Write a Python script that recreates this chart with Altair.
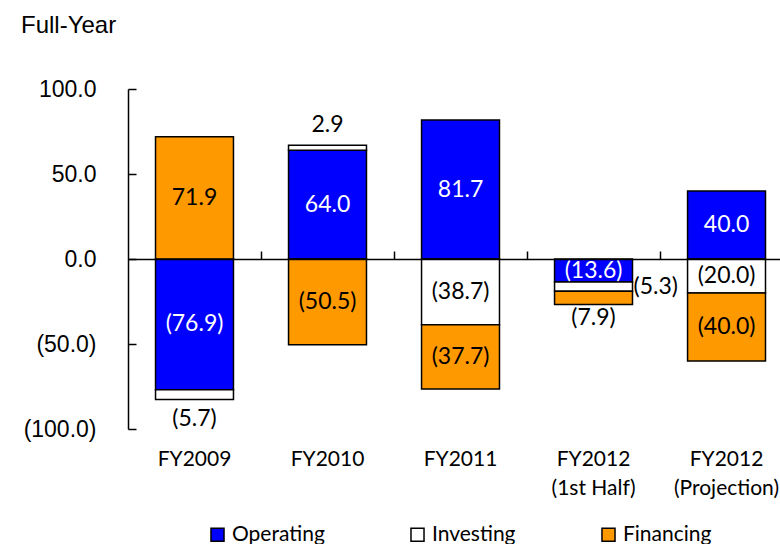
import altair as alt
import pandas as pd

# Cash flows by fiscal period (in billions of yen)
periods = ["FY2009", "FY2010", "FY2011", "FY2012\n(1st Half)", "FY2012\n(Projection)"]
flows = ["Operating", "Investing", "Financing"]
flow_colors = ["#0000FF", "#FFFFFF", "#FF9900"]

operating = [-76.9, 64.0, 81.7, -13.6, 40.0]
investing = [-5.7, 2.9, -38.7, -5.3, -20.0]
financing = [71.9, -50.5, -37.7, -7.9, -40.0]

# Where each value label is placed relative to its segment
operating_label_at = ["center", "center", "center", "center", "center"]
investing_label_at = ["below", "above", "center", "right", "center"]
financing_label_at = ["center", "center", "center", "under", "center"]

y_ticks = [-100, -50, 0, 50, 100]


def fmt(v):
    return f"({abs(v):.1f})" if v < 0 else f"{v:.1f}"


# Stack positives upward and negatives downward, Operating first
rows = []
series = {"Operating": (operating, operating_label_at),
          "Investing": (investing, investing_label_at),
          "Financing": (financing, financing_label_at)}
for i, period in enumerate(periods):
    up, down = 0.0, 0.0
    for flow in flows:
        values, places = series[flow]
        v = values[i]
        if v >= 0:
            y0, y1 = up, up + v
            up = y1
        else:
            y0, y1 = down, down + v
            down = y1
        place = places[i]
        if place == "above":
            anchor = max(y0, y1)
        elif place in ("below", "under"):
            anchor = min(y0, y1)
        else:
            anchor = (y0 + y1) / 2
        rows.append({"period": period, "flow": flow, "value": v, "y0": y0, "y1": y1,
                     "anchor": anchor, "place": place, "label": fmt(v)})

df = pd.DataFrame(rows)

label_font = "Lato"
num_font = "Liberation Sans"

x_scale = alt.Scale(domain=periods, paddingInner=0.414, paddingOuter=0.158, align=0.655)
y_scale = alt.Scale(domain=[-100, 100], nice=False)

base = alt.Chart(df)

bars = base.mark_bar(stroke="black", strokeWidth=1.5).encode(
    x=alt.X("period:N", sort=periods, scale=x_scale,
            axis=alt.Axis(orient="bottom", title=None, domain=False, ticks=False,
                          labelAngle=0, labelFont=label_font, labelFontSize=21,
                          labelColor="black", labelPadding=19, labelLineHeight=29,
                          labelExpr="split(datum.label, '\\n')")),
    y=alt.Y("y0:Q", scale=y_scale,
            axis=alt.Axis(orient="left", title=None, values=y_ticks, grid=False,
                          domain=True, domainColor="black", domainWidth=1.5,
                          ticks=False, tickSize=0, labelFont=num_font, labelFontSize=23,
                          labelColor="black", labelPadding=32,
                          labelExpr="datum.value < 0 ? '(' + format(-datum.value, '.1f') + ')' : format(datum.value, '.1f') + '\u00a0'")),
    y2="y1:Q",
    color=alt.Color("flow:N", sort=flows,
                    scale=alt.Scale(domain=flows, range=flow_colors),
                    legend=alt.Legend(orient="none", legendX=79, legendY=435,
                                      direction="horizontal", title=None,
                                      symbolType="square", symbolSize=170,
                                      symbolStrokeColor="black", symbolStrokeWidth=1.5,
                                      labelFont=label_font, labelFontSize=21,
                                      labelColor="black", labelOffset=4,
                                      columnPadding=82)),
)

text_color = alt.condition(alt.datum.flow == "Operating", alt.value("white"), alt.value("black"))

# Centered labels; this layer also carries the zero line with its
# category separators and the inward y ticks.
center_text = base.transform_filter(alt.datum.place == "center").mark_text(
    font=label_font, fontSize=23, baseline="middle", align="center"
).encode(
    x=alt.X("period:N", sort=periods,
            axis=alt.Axis(orient="top", offset=-170, title=None, labels=False,
                          values=periods[:4], tickOffset=66.5, tickSize=8,
                          tickColor="black", tickWidth=1.5, domain=True,
                          domainColor="black", domainWidth=1.5, zindex=1)),
    y=alt.Y("anchor:Q",
            axis=alt.Axis(orient="right", offset=-652, title=None, labels=False,
                          values=y_ticks, grid=False, domain=False, tickSize=8,
                          tickColor="black", tickWidth=1.5, zindex=1)),
    text="label:N",
    color=text_color,
)


def placed_text(place, **mark_kw):
    band = 1 if place == "right" else 0.5
    return base.transform_filter(alt.datum.place == place).mark_text(
        font=label_font, fontSize=23, **mark_kw
    ).encode(
        x=alt.X("period:N", sort=periods, bandPosition=band, axis=None),
        y=alt.Y("anchor:Q", axis=None),
        text="label:N",
        color=text_color,
    )


above_text = placed_text("above", baseline="alphabetic", align="center", dy=-13)
below_text = placed_text("below", baseline="top", align="center", dy=9)
under_text = placed_text("under", baseline="top", align="center", dy=2)
right_text = placed_text("right", baseline="middle", align="left", dx=1)

chart = alt.layer(bars, center_text, above_text, below_text, under_text, right_text).resolve_axis(
    x="independent", y="independent"
).properties(
    width=652,
    height=340,
    title=alt.TitleParams("Full-Year", anchor="start", frame="group", font=num_font,
                          fontSize=24, fontWeight="normal", color="black",
                          dx=-107, offset=40),
    autosize=alt.AutoSizeParams(type="none"),
    padding={"left": 128, "top": 89, "right": 0, "bottom": 115},
).configure_view(stroke=None)

chart.save("out.html", embed_options={"renderer": "svg", "actions": False})
